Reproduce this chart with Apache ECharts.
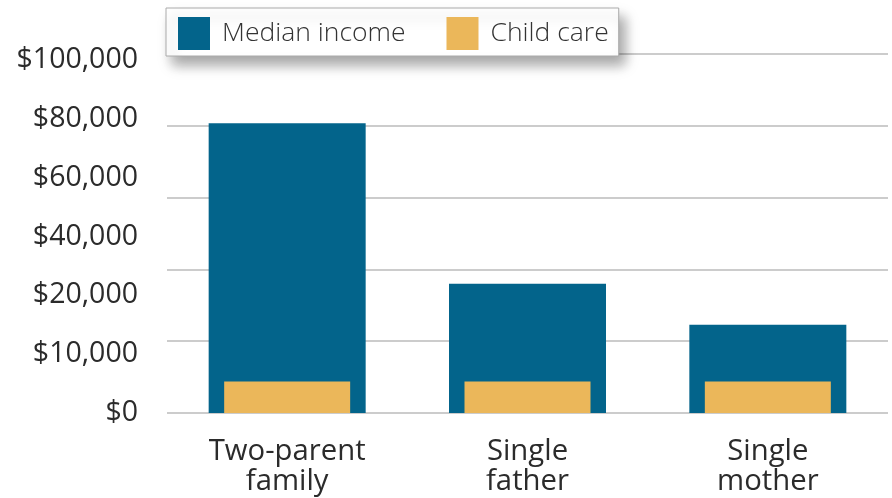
<!DOCTYPE html>
<html>
<head>
<meta charset="utf-8">
<script src="https://cdn.jsdelivr.net/npm/echarts@6/dist/echarts.min.js"></script>
<style>html,body{margin:0;padding:0;background:#fff}#c{width:892px;height:498px}</style>
</head>
<body>
<div id="c"></div>
<script>
const categories = ['Two-parent\nfamily', 'Single\nfather', 'Single\nmother'];
const medianIncome = [80700, 36000, 24600];
const childCare = [8800, 8800, 8800];
const tickLabels = ['$0', '$10,000', '$20,000', '$40,000', '$60,000', '$80,000', '$100,000'];

const chart = echarts.init(document.getElementById('c'));
const font = '"Open Sans", sans-serif';
chart.setOption({
  animation: false,
  legend: {
    left: 166, top: 8,
    padding: [9, 10, 6, 12],
    itemWidth: 32, itemHeight: 33, itemGap: 41,
    backgroundColor: '#fff',
    borderColor: '#aaa', borderWidth: 1,
    shadowBlur: 12, shadowOffsetX: 6, shadowOffsetY: 9, shadowColor: 'rgba(0,0,0,0.35)',
    icon: 'rect',
    textStyle: { fontFamily: font, fontSize: 26.5, fontWeight: 300, color: '#333', padding: [2, 0, 0, 7] },
    data: ['Median income', 'Child care']
  },
  grid: { left: 167, right: 4, top: 54, bottom: 85 },
  xAxis: [
    { type: 'category', data: categories,
      axisLine: { show: false }, axisTick: { show: false },
      axisLabel: { fontFamily: font, fontSize: 29.3, color: '#2b2b2b', lineHeight: 30, margin: 24 } },
    { type: 'category', data: categories, show: false }
  ],
  yAxis: [
    { type: 'value', min: 0, max: 100000, interval: 20000,
      axisLabel: { show: false }, axisLine: { show: false }, axisTick: { show: false },
      splitLine: { lineStyle: { color: '#cccccc', width: 2 } } },
    { type: 'value', min: 0, max: 6.1, interval: 1, position: 'left',
      axisLine: { show: false }, axisTick: { show: false }, splitLine: { show: false },
      axisLabel: { fontFamily: font, fontSize: 28.5, color: '#2b2b2b', margin: 29,
        formatter: v => Number.isInteger(v) && tickLabels[v] !== undefined ? tickLabels[v] : '' } }
  ],
  series: [
    { name: 'Median income', type: 'bar', xAxisIndex: 0, yAxisIndex: 0, barWidth: 157,
      itemStyle: { color: '#03648b' }, data: medianIncome },
    { name: 'Child care', type: 'bar', xAxisIndex: 1, yAxisIndex: 0, barWidth: 126,
      itemStyle: { color: '#ebb75a' }, data: childCare }
  ]
});
</script>
</body>
</html>
